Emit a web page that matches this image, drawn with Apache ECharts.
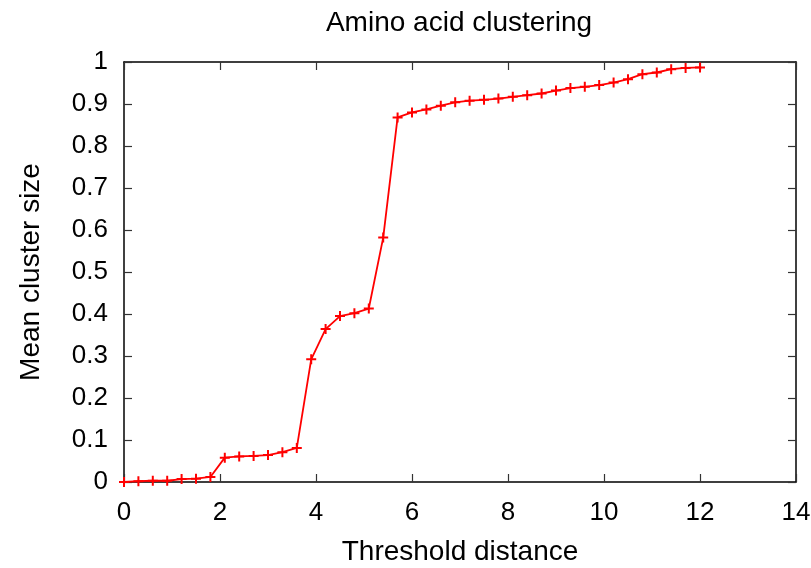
<!DOCTYPE html>
<html>
<head>
<meta charset="utf-8">
<script src="https://cdn.jsdelivr.net/npm/echarts@6/dist/echarts.min.js"></script>
<style>html,body{margin:0;padding:0;background:#fff;}#c{width:811px;height:568px;}</style>
</head>
<body>
<div id="c"></div>
<script>
var thresholds = [0, 0.3, 0.6, 0.9, 1.2, 1.5, 1.8, 2.1, 2.4, 2.7, 3.0, 3.3, 3.6, 3.9, 4.2, 4.5, 4.8, 5.1, 5.4, 5.7, 6.0, 6.3, 6.6, 6.9, 7.2, 7.5, 7.8, 8.1, 8.4, 8.7, 9.0, 9.3, 9.6, 9.9, 10.2, 10.5, 10.8, 11.1, 11.4, 11.7, 12.0];
var meanClusterSize = [0, 0.002, 0.003, 0.003, 0.007, 0.008, 0.012, 0.058, 0.061, 0.062, 0.064, 0.071, 0.081, 0.292, 0.364, 0.395, 0.402, 0.413, 0.582, 0.868, 0.880, 0.887, 0.896, 0.904, 0.908, 0.910, 0.913, 0.917, 0.921, 0.925, 0.932, 0.938, 0.941, 0.945, 0.951, 0.959, 0.971, 0.975, 0.983, 0.986, 0.987];
var titleText = 'Amino acid clustering';
var xName = 'Threshold distance';
var yName = 'Mean cluster size';

var FONT = '"Liberation Sans", Arial, sans-serif';
var FS = 26;
var NFS = 28;
var chart = echarts.init(document.getElementById('c'), null, {renderer: 'canvas'});
var pts = thresholds.map(function (x, i) { return [x, meanClusterSize[i]]; });
var axisLine = {show: true, onZero: false, lineStyle: {color: '#000', width: 1.5}};
var tick = {show: true, inside: true, length: 8, lineStyle: {color: '#333', width: 1.2}};
chart.setOption({
  animation: false,
  backgroundColor: '#fff',
  title: {
    text: titleText, left: 454, top: 4, textAlign: 'center',
    textStyle: {fontFamily: FONT, fontSize: NFS, fontWeight: 'normal', color: '#000'}
  },
  grid: {left: 124, right: 15, top: 62, bottom: 86, containLabel: false, outerBoundsMode: 'none'},
  xAxis: [{
    type: 'value', min: 0, max: 14, interval: 2, position: 'bottom',
    name: xName, nameLocation: 'middle', nameGap: 56,
    nameTextStyle: {fontFamily: FONT, fontSize: NFS, color: '#000'},
    axisLine: axisLine, axisTick: tick,
    axisLabel: {fontFamily: FONT, fontSize: FS, color: '#000', margin: 18},
    splitLine: {show: false}
  }, {
    type: 'value', min: 0, max: 14, interval: 2, position: 'top',
    axisLine: axisLine, axisTick: tick, axisLabel: {show: false}, splitLine: {show: false}
  }],
  yAxis: [{
    type: 'value', min: 0, max: 1, interval: 0.1, position: 'left',
    name: yName, nameLocation: 'middle', nameGap: 79,
    nameTextStyle: {fontFamily: FONT, fontSize: NFS, color: '#000'},
    axisLine: axisLine, axisTick: tick,
    axisLabel: {fontFamily: FONT, fontSize: FS, color: '#000', margin: 16,
      formatter: function (v) { return String(Math.round(v * 10) / 10); }},
    splitLine: {show: false}
  }, {
    type: 'value', min: 0, max: 1, interval: 0.1, position: 'right',
    axisLine: axisLine, axisTick: tick, axisLabel: {show: false}, splitLine: {show: false}
  }],
  series: [{
    type: 'line', xAxisIndex: 0, yAxisIndex: 0, data: pts,
    symbol: 'path://M0,4H10V6H0Z M4,0H6V10H4Z', symbolSize: 10,
    showAllSymbol: true,
    itemStyle: {color: '#ff0000'},
    lineStyle: {color: '#ff0000', width: 1.8}
  }]
});
</script>
</body>
</html>
